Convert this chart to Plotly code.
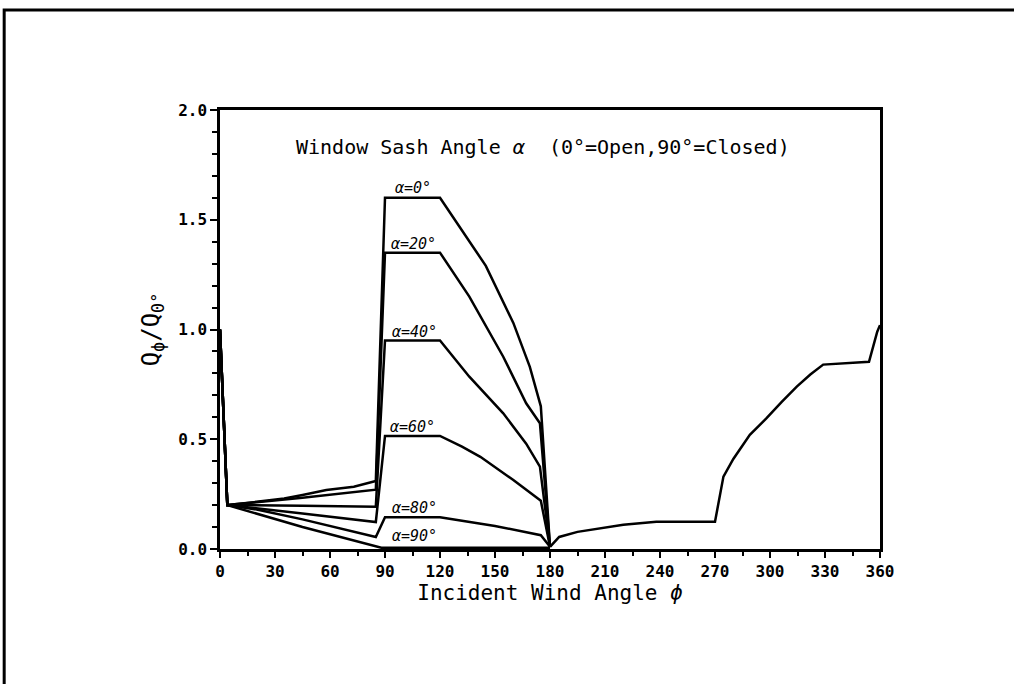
import plotly.graph_objects as go

# ---- data ----
phi_a0 = [0, 4, 20, 35, 45, 58, 73, 85, 90, 120, 130, 145, 160, 169, 175, 180]
q_a0 = [1.0, 0.2, 0.215, 0.23, 0.246, 0.269, 0.284, 0.31, 1.6, 1.6, 1.476, 1.29, 1.03, 0.83, 0.65, 0.01]

phi_a20 = [0, 4, 45, 85, 90, 120, 136, 154.5, 167, 174.5, 180]
q_a20 = [1.0, 0.2, 0.234, 0.27, 1.35, 1.35, 1.15, 0.876, 0.664, 0.573, 0.01]

phi_a40 = [0, 4, 45, 85, 90, 120, 136, 154.5, 167, 174.5, 180]
q_a40 = [1.0, 0.2, 0.197, 0.193, 0.95, 0.95, 0.785, 0.618, 0.48, 0.375, 0.01]

phi_a60 = [0, 4, 45, 85, 90, 120, 132, 142, 160, 175, 180]
q_a60 = [1.0, 0.2, 0.162, 0.123, 0.515, 0.515, 0.466, 0.42, 0.314, 0.22, 0.01]

phi_a80 = [0, 4, 20, 45, 85, 90, 120, 150, 175, 180]
q_a80 = [1.0, 0.2, 0.18, 0.135, 0.055, 0.145, 0.145, 0.105, 0.063, 0.01]

phi_a90 = [0, 4, 45, 88, 180]
q_a90 = [1.0, 0.2, 0.1, 0.006, 0.006]

phi_common = [180, 185, 195, 207, 220, 238, 270, 274.6, 280, 289, 298, 306.4, 314.6, 322, 329, 354, 358.5, 360]
q_common = [0.01, 0.055, 0.078, 0.094, 0.11, 0.124, 0.124, 0.33, 0.41, 0.52, 0.595, 0.67, 0.74, 0.795, 0.84, 0.853, 0.99, 1.02]

label_text = ["α=0°", "α=20°", "α=40°", "α=60°", "α=80°", "α=90°"]
label_phi = [105, 105.5, 106, 105, 106, 106]
label_q = [1.645, 1.39, 0.99, 0.555, 0.188, 0.058]

x_ticks = list(range(0, 361, 30))
y_ticks = [0.0, 0.5, 1.0, 1.5, 2.0]

fig = go.Figure()
line = dict(color="black", width=2.5)
for px, qy in [(phi_a0, q_a0), (phi_a20, q_a20), (phi_a40, q_a40),
               (phi_a60, q_a60), (phi_a80, q_a80), (phi_a90, q_a90),
               (phi_common, q_common)]:
    fig.add_trace(go.Scatter(x=px, y=qy, mode="lines", line=line,
                             showlegend=False, hoverinfo="skip"))

for t, xp, yp in zip(label_text, label_phi, label_q):
    fig.add_annotation(x=xp, y=yp, text="<i>" + t + "</i>", showarrow=False,
                       font=dict(family="DejaVu Sans Mono", size=15, color="black"),
                       xanchor="center", yanchor="middle")

fig.add_annotation(x=176, y=1.83,
                   text="Window Sash Angle <i>α</i>  (0°=Open,90°=Closed)",
                   showarrow=False,
                   font=dict(family="DejaVu Sans Mono", size=20, color="black"),
                   xanchor="center", yanchor="middle")

# outer page frame (top and left edges visible)
fig.add_shape(type="path", xref="paper", yref="paper",
              path="M -0.327 -0.32 L -0.327 1.2278 L 1.25 1.2278",
              line=dict(color="black", width=3))

tickfont = dict(family="DejaVu Sans Mono", size=16, color="black", weight="bold")
fig.update_xaxes(range=[0, 360], tickvals=x_ticks, ticktext=[str(v) for v in x_ticks],
                 ticks="outside", ticklen=6, tickwidth=2, tickcolor="black",
                 minor=dict(dtick=15, ticks="outside", ticklen=4, tickwidth=1.5, tickcolor="black"),
                 showline=True, linecolor="black", linewidth=2.5, mirror=True,
                 showgrid=False, zeroline=False, tickfont=tickfont,
                 title=dict(text="Incident Wind Angle <i>ϕ</i>",
                            font=dict(family="DejaVu Sans Mono", size=21, color="black"),
                            standoff=0))
fig.update_yaxes(range=[0, 2], tickvals=y_ticks, ticktext=["%.1f" % v for v in y_ticks],
                 ticks="outside", ticklen=7, tickwidth=2, tickcolor="black",
                 minor=dict(dtick=0.1, ticks="outside", ticklen=5, tickwidth=1.5, tickcolor="black"),
                 showline=True, linecolor="black", linewidth=2.5, mirror=True,
                 showgrid=False, zeroline=False, tickfont=tickfont,
                 title=dict(text="Q<sub>ϕ</sub>/Q<sub>0°</sub>",
                            font=dict(family="DejaVu Sans Mono", size=24, color="black"),
                            standoff=12))

fig.update_layout(width=1014, height=684,
                  margin=dict(l=220, r=134, t=110, b=135),
                  paper_bgcolor="white", plot_bgcolor="white")

fig.write_html("out.html")
